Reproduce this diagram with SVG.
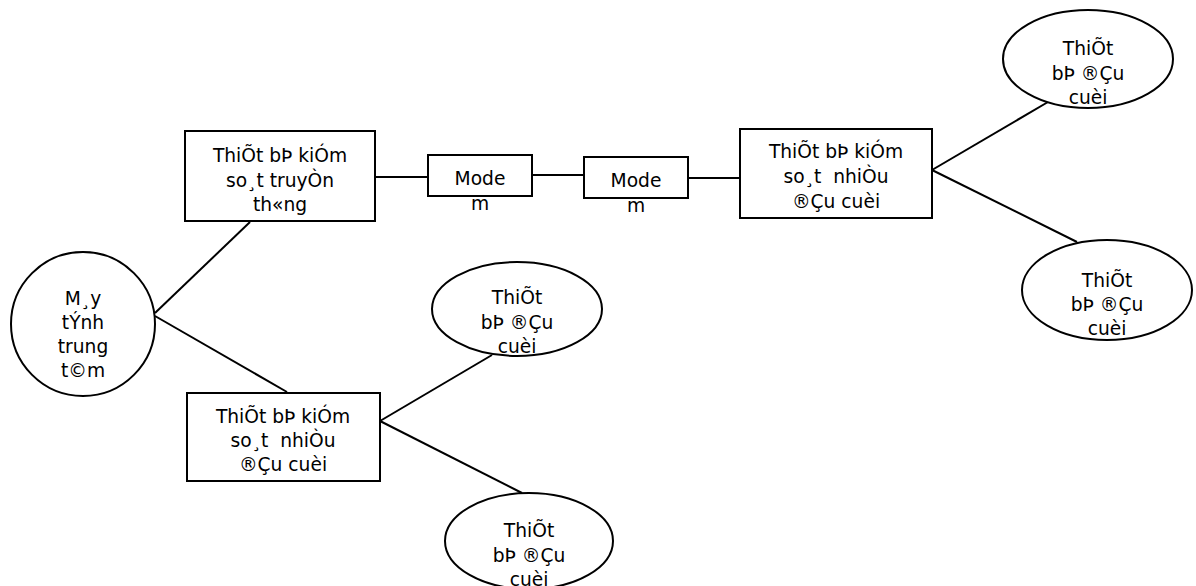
<svg xmlns="http://www.w3.org/2000/svg" width="1196" height="586" viewBox="0 0 1196 586">
<style>
.s{fill:#fff;stroke:#000;stroke-width:2}
.c line{stroke:#000;stroke-width:2}
text{font-family:"DejaVu Sans",sans-serif;font-size:18.67px;fill:#000;text-anchor:middle}
</style>
<rect width="1196" height="586" fill="#fff"/>
<g class="c" id="connectors">
<line x1="375" y1="177" x2="428" y2="177"/>
<line x1="532" y1="175" x2="584" y2="175"/>
<line x1="688" y1="178" x2="740" y2="178"/>
<line x1="932" y1="170" x2="1048" y2="102"/>
<line x1="932" y1="170" x2="1077" y2="242"/>
<line x1="155" y1="313" x2="250" y2="222"/>
<line x1="155" y1="316" x2="287" y2="392"/>
<line x1="380" y1="421" x2="492" y2="355"/>
<line x1="380" y1="421" x2="522" y2="493"/>
</g>
<g id="box1">
<rect class="s" x="185" y="131" width="190" height="90"/>
<text x="280" y="162">ThiÕt bÞ kiÓm</text>
<text x="280" y="187">so¸t truyÒn</text>
<text x="280" y="211">th«ng</text>
</g>
<g id="modem1">
<rect class="s" x="428" y="155" width="104" height="41"/>
<text x="480" y="185">Mode</text>
<text x="480" y="210">m</text>
</g>
<g id="modem2">
<rect class="s" x="584" y="157" width="104" height="41"/>
<text x="636" y="187">Mode</text>
<text x="636" y="212">m</text>
</g>
<g id="box3">
<rect class="s" x="740" y="129" width="192" height="89"/>
<text x="836" y="158">ThiÕt bÞ kiÓm</text>
<text x="836" y="183" xml:space="preserve">so¸t  nhiÒu</text>
<text x="836" y="208">®Çu cuèi</text>
</g>
<g id="computer">
<ellipse class="s" cx="83" cy="324" rx="72" ry="72"/>
<text x="83" y="305">M¸y</text>
<text x="83" y="329">tÝnh</text>
<text x="83" y="353">trung</text>
<text x="83" y="377">t©m</text>
</g>
<g id="box4">
<rect class="s" x="187" y="393" width="193" height="88"/>
<text x="283" y="423">ThiÕt bÞ kiÓm</text>
<text x="283" y="447" xml:space="preserve">so¸t  nhiÒu</text>
<text x="283" y="471">®Çu cuèi</text>
</g>
<g id="term1">
<ellipse class="s" cx="517" cy="309" rx="85" ry="47"/>
<text x="517" y="304">ThiÕt</text>
<text x="517" y="329">bÞ ®Çu</text>
<text x="517" y="353">cuèi</text>
</g>
<g id="term2">
<ellipse class="s" cx="529" cy="541" rx="84" ry="48"/>
<text x="529" y="537">ThiÕt</text>
<text x="529" y="562">bÞ ®Çu</text>
<text x="529" y="586">cuèi</text>
</g>
<g id="term3">
<ellipse class="s" cx="1088" cy="59" rx="85" ry="49"/>
<text x="1088" y="55">ThiÕt</text>
<text x="1088" y="80">bÞ ®Çu</text>
<text x="1088" y="104">cuèi</text>
</g>
<g id="term4">
<ellipse class="s" cx="1107" cy="290" rx="85" ry="50"/>
<text x="1107" y="287">ThiÕt</text>
<text x="1107" y="311">bÞ ®Çu</text>
<text x="1107" y="335">cuèi</text>
</g>
</svg>
